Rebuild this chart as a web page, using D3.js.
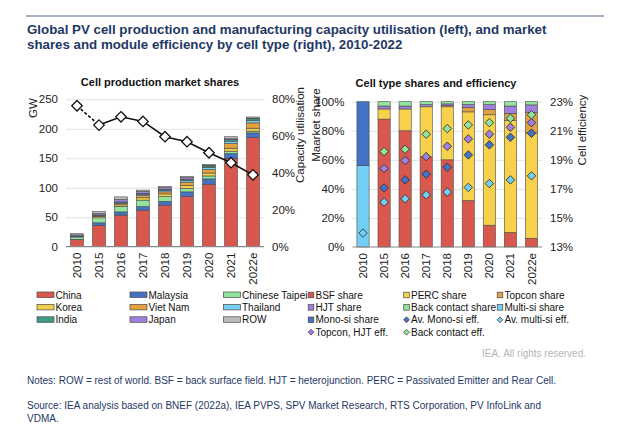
<!DOCTYPE html>
<html>
<head>
<meta charset="utf-8">
<script src="https://cdn.jsdelivr.net/npm/d3@7"></script>
<style>
  body { margin: 0; background: #fff; }
  svg { font-family: "Liberation Sans", Arial, sans-serif; }
</style>
</head>
<body>
<div id="chart"></div>
<script>
// ---------------------------------------------------------------------
// Data

var years = ['2010', '2015', '2016', '2017', '2018', '2019', '2020', '2021', '2022e'];

// cell production by country, GW
var china    = [12, 36, 53.5, 62, 70.5, 85, 106, 150, 185];
var malaysia = [0.5, 4.5, 5.5, 6, 6.5, 8, 9, 8, 8];
var taipei   = [4, 8.5, 9.5, 11, 8, 6, 5, 4, 3];
var korea    = [1, 2, 2.5, 4, 4.5, 5, 5, 5, 5];
var vietnam  = [0, 1, 2, 3.5, 3.5, 5.5, 6, 8, 9];
var thailand = [0, 0.5, 1, 2, 2.5, 3, 3.5, 4, 4];
var india    = [0.5, 1.5, 2, 2, 2, 2, 2.5, 3, 3];
var japan    = [2, 2, 4, 3, 2.5, 2.5, 1, 1, 1];
var rest     = [2, 3.5, 4.5, 2.5, 2, 2, 1.5, 3.5, 2];

// manufacturing capacity utilisation, %
var utilisation = [76.5, 66, 70.5, 68, 59.7, 57, 51, 45.6, 39];

// cell type market shares, %
var bsf      = [0, 88, 80, 62, 60, 32, 15, 10, 6];
var perc     = [0, 7, 15, 34.5, 36.5, 61, 76, 77, 72.5];
var topcon   = [0, 0, 0, 0, 0.8, 3, 3.5, 5, 14];
var hjt      = [0, 2, 2, 1.5, 1.2, 2, 3.5, 5, 5.3];
var bc       = [0, 3, 3, 2, 1.5, 2, 2, 3, 2.2];
var multi    = [56, 0, 0, 0, 0, 0, 0, 0, 0];
var mono     = [44, 0, 0, 0, 0, 0, 0, 0, 0];

// efficiencies, %
var effMono   = [null, 17.07, 17.62, 18.01, 18.49, 19.34, 20.03, 20.55, 20.83];
var effMulti  = [13.96, 16.09, 16.32, 16.59, 16.78, 17.1, 17.37, 17.62, 17.9];
var effHjt    = [null, 18.4, 18.95, 19.22, 19.93, 20.44, 20.76, 21.24, 21.56];
var effBc     = [null, 19.57, 19.73, 20.76, 21.15, 21.4, 21.56, 21.86, 22.1];

var gwTicks = [0, 50, 100, 150, 200, 250];
var utilTicks = [0, 20, 40, 60, 80];
var shareTicks = [0, 20, 40, 60, 80, 100];
var effTicks = [13, 15, 17, 19, 21, 23];

// ---------------------------------------------------------------------
// Setup

var width = 624, height = 448,
    titleColor = '#1f3864',
    tickColor = '#222',
    gridColor = '#e3e3e3',
    outline = '#4a4a4a';

var countries = [
    { name: 'China', values: china, color: '#d9584d' },
    { name: 'Malaysia', values: malaysia, color: '#4472c4' },
    { name: 'Chinese Taipei', values: taipei, color: '#92e39c' },
    { name: 'Korea', values: korea, color: '#f5cf4b' },
    { name: 'Viet Nam', values: vietnam, color: '#e6a13c' },
    { name: 'Thailand', values: thailand, color: '#74cff4' },
    { name: 'India', values: india, color: '#3e9a89' },
    { name: 'Japan', values: japan, color: '#a07fdf' },
    { name: 'ROW', values: rest, color: '#bdbdbd' }
];
var types = [
    { name: 'BSF share', values: bsf, color: '#d9584d' },
    { name: 'PERC share', values: perc, color: '#f7d04c' },
    { name: 'Topcon share', values: topcon, color: '#e0a044' },
    { name: 'HJT share', values: hjt, color: '#a07fdf' },
    { name: 'Back contact share', values: bc, color: '#92e39c' },
    { name: 'Multi-si share', values: multi, color: '#74cff4' },
    { name: 'Mono-si share', values: mono, color: '#4472c4' }
];
var effs = [
    { name: 'Av. Mono-si eff.', values: effMono, color: '#4472c4' },
    { name: 'Av. multi-si eff.', values: effMulti, color: '#74cff4' },
    { name: 'Topcon, HJT eff.', values: effHjt, color: '#a07fdf' },
    { name: 'Back contact eff.', values: effBc, color: '#92e39c' }
];

var svg = d3.select('#chart').append('svg')
    .attr('width', width).attr('height', height);

// header
svg.append('line')
    .attr('x1', 26).attr('x2', 604).attr('y1', 16).attr('y2', 16)
    .attr('stroke', '#8796ad').attr('stroke-width', 1.5);
svg.append('text').attr('x', 27).attr('y', 34)
    .attr('font-size', 13.3).attr('font-weight', 'bold').attr('fill', titleColor)
    .text('Global PV cell production and manufacturing capacity utilisation (left), and market');
svg.append('text').attr('x', 27).attr('y', 49)
    .attr('font-size', 13.3).attr('font-weight', 'bold').attr('fill', titleColor)
    .text('shares and module efficiency by cell type (right), 2010-2022');

function draw_stack(opts) {
    var table = years.map(function(y, i) {
        var row = { year: y };
        opts.series.forEach(function(s) { row[s.name] = s.values[i]; });
        return row;
    });
    var stacked = d3.stack().keys(opts.series.map(function(s) { return s.name; }))(table);

    var x = d3.scaleBand().domain(years).range(opts.xRange)
        .paddingInner(opts.padIn).paddingOuter(opts.padIn / 2);
    var y = d3.scaleLinear().domain(opts.yDomain).range(opts.yRange);

    var g = svg.append('g');

    // gridlines
    g.append('g').selectAll('line').data(opts.yTicks.slice(1)).enter().append('line')
        .attr('x1', opts.xRange[0]).attr('x2', opts.xRange[1])
        .attr('y1', function(d) { return y(d) + 0.5; })
        .attr('y2', function(d) { return y(d) + 0.5; })
        .attr('stroke', gridColor);

    // bars
    g.append('g').selectAll('g').data(stacked).enter().append('g')
        .attr('fill', function(d, i) { return opts.series[i].color; })
        .selectAll('rect').data(function(d) { return d; }).enter()
        .filter(function(d) { return d[1] - d[0] > 0; })
        .append('rect')
        .attr('x', function(d) { return x(d.data.year); })
        .attr('width', x.bandwidth())
        .attr('y', function(d) { return y(d[1]); })
        .attr('height', function(d) { return y(d[0]) - y(d[1]); })
        .attr('stroke', outline).attr('stroke-width', 0.6);

    // left axis
    var left = g.append('g').attr('transform', 'translate(' + opts.xRange[0] + ',0)')
        .call(d3.axisLeft(y).tickValues(opts.yTicks).tickSize(0).tickPadding(8)
              .tickFormat(opts.leftFormat));
    left.select('.domain').remove();
    left.selectAll('text').attr('font-size', 11.5).attr('fill', tickColor)
        .attr('font-family', null);

    // baseline
    g.append('line')
        .attr('x1', opts.xRange[0]).attr('x2', opts.xRange[1])
        .attr('y1', opts.yRange[0]).attr('y2', opts.yRange[0])
        .attr('stroke', '#888').attr('stroke-width', 1.2);

    // x axis labels
    var bottom = g.append('g').attr('transform', 'translate(0,' + opts.yRange[0] + ')')
        .call(d3.axisBottom(x).tickSize(0));
    bottom.select('.domain').remove();
    bottom.selectAll('text').attr('font-size', 11.5).attr('fill', tickColor)
        .attr('font-family', null)
        .attr('transform', 'rotate(-90)')
        .attr('text-anchor', 'end').attr('dy', '0.35em')
        .attr('x', -6).attr('y', 0);

    return { x: x, y: y, g: g };
}

function right_axis(g, scale, xPos, ticks, fmt) {
    var a = g.append('g').attr('transform', 'translate(' + xPos + ',0)')
        .call(d3.axisRight(scale).tickValues(ticks).tickSize(0).tickPadding(8).tickFormat(fmt));
    a.select('.domain').remove();
    a.selectAll('text').attr('font-size', 11.5).attr('fill', tickColor).attr('font-family', null);
}

function rotated_label(x, y, text) {
    svg.append('text').attr('transform', 'translate(' + x + ',' + y + ') rotate(-90)')
        .attr('text-anchor', 'middle').attr('font-size', 11.5).attr('fill', tickColor)
        .text(text);
}

var diamond = d3.symbol().type(d3.symbolDiamond2);

// ---------------------------------------------------------------------
// Left chart

var pct = function(d) { return d + '%'; };

var left = draw_stack({
    series: countries, xRange: [66, 264], padIn: 0.41,
    yDomain: [0, 250], yRange: [246.7, 99.3], yTicks: gwTicks,
    leftFormat: d3.format('d')
});
var yUtil = d3.scaleLinear().domain([0, 80]).range([246.7, 99.3]);
right_axis(left.g, yUtil, 264, utilTicks, pct);

var pts = years.map(function(y, i) {
    return [left.x(y) + left.x.bandwidth() / 2, yUtil(utilisation[i])];
});
var line = d3.line();
left.g.append('path').attr('d', line(pts.slice(0, 2)))
    .attr('fill', 'none').attr('stroke', '#111').attr('stroke-width', 1.6)
    .attr('stroke-dasharray', '3,2');
left.g.append('path').attr('d', line(pts.slice(1)))
    .attr('fill', 'none').attr('stroke', '#111').attr('stroke-width', 1.6);
left.g.selectAll('.util').data(pts).enter().append('path')
    .attr('transform', function(d) { return 'translate(' + d[0] + ',' + d[1] + ')'; })
    .attr('d', diamond.size(70)())
    .attr('fill', '#fff').attr('stroke', '#111').attr('stroke-width', 1.3);

svg.append('text').attr('x', 160).attr('y', 86).attr('text-anchor', 'middle')
    .attr('font-size', 11).attr('font-weight', 'bold').attr('fill', '#111')
    .text('Cell production market shares');
rotated_label(37, 108, 'GW');
rotated_label(304, 135, 'Capacity utilisation');

// ---------------------------------------------------------------------
// Right chart

var right = draw_stack({
    series: types, xRange: [352.5, 542], padIn: 0.42,
    yDomain: [0, 100], yRange: [247, 101.7], yTicks: shareTicks,
    leftFormat: pct
});
var yEff = d3.scaleLinear().domain([13, 23]).range([247, 101.7]);
right_axis(right.g, yEff, 542, effTicks, pct);

effs.forEach(function(s) {
    right.g.append('g').selectAll('path')
        .data(years.map(function(y, i) { return { year: y, v: s.values[i] }; })
              .filter(function(d) { return d.v !== null; }))
        .enter().append('path')
        .attr('transform', function(d) {
            return 'translate(' + (right.x(d.year) + right.x.bandwidth() / 2) + ',' + yEff(d.v) + ')';
        })
        .attr('d', diamond.size(46)())
        .attr('fill', s.color).attr('stroke', '#333').attr('stroke-width', 0.9);
});

svg.append('text').attr('x', 436).attr('y', 87).attr('text-anchor', 'middle')
    .attr('font-size', 11).attr('font-weight', 'bold').attr('fill', '#111')
    .text('Cell type shares and efficiency');
rotated_label(320, 125, 'Maarket share');
rotated_label(586, 130, 'Cell efficiency');

// ---------------------------------------------------------------------
// Legends

var legLeft = svg.append('g').attr('font-size', 10).attr('fill', '#111');
countries.forEach(function(c, i) {
    var col = i % 3, row = Math.floor(i / 3);
    var lx = [37, 130, 223.5][col], ly = 295 + row * 12.4;
    legLeft.append('rect').attr('x', lx).attr('y', ly - 3).attr('width', 17).attr('height', 5.5)
        .attr('fill', c.color).attr('stroke', outline).attr('stroke-width', 0.7);
    legLeft.append('text').attr('x', lx + 18.5).attr('y', ly).attr('dy', '0.35em').text(c.name);
});

var legRight = svg.append('g').attr('font-size', 10).attr('fill', '#111');
var rightItems = types.concat(effs);
rightItems.forEach(function(c, i) {
    var col = i % 3, row = Math.floor(i / 3);
    var lx = [311, 406.5, 500][col], ly = 295 + row * 12.4;
    if (i < types.length) {
        legRight.append('rect').attr('x', lx - 2.8).attr('y', ly - 2.8).attr('width', 5.6).attr('height', 5.6)
            .attr('fill', c.color).attr('stroke', outline).attr('stroke-width', 0.7);
    } else {
        legRight.append('path').attr('transform', 'translate(' + lx + ',' + ly + ')')
            .attr('d', diamond.size(22)())
            .attr('fill', c.color).attr('stroke', '#333').attr('stroke-width', 0.7);
    }
    legRight.append('text').attr('x', lx + 4.5).attr('y', ly).attr('dy', '0.35em').text(c.name);
});

// ---------------------------------------------------------------------
// Footer

svg.append('text').attr('x', 586).attr('y', 357).attr('text-anchor', 'end')
    .attr('font-size', 10).attr('fill', '#b5b5b5').text('IEA. All rights reserved.');

var foot = svg.append('g').attr('font-size', 10).attr('fill', titleColor);
foot.append('text').attr('x', 27).attr('y', 384)
    .text('Notes: ROW = rest of world. BSF = back surface field. HJT = heterojunction. PERC = Passivated Emitter and Rear Cell.');
foot.append('text').attr('x', 27).attr('y', 409)
    .text('Source: IEA analysis based on BNEF (2022a), IEA PVPS, SPV Market Research, RTS Corporation, PV InfoLink and');
foot.append('text').attr('x', 27).attr('y', 422).text('VDMA.');
</script>
</body>
</html>
